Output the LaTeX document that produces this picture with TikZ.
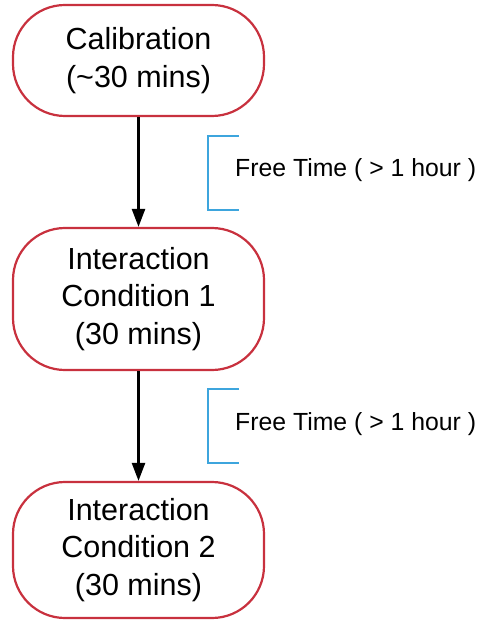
\documentclass[tikz,border=0pt]{standalone}
\usepackage{fontspec}
\setmainfont{Liberation Sans}
\usetikzlibrary{arrows.meta}
\definecolor{boxred}{HTML}{C8313E}
\definecolor{brblue}{HTML}{3DA5DD}
\begin{document}
\begin{tikzpicture}[x=1pt,y=-1pt,
  stagebox/.style={draw=boxred, line width=2.2pt, rounded corners=52pt,
    minimum width=251pt, align=center, inner sep=0pt,
    font=\fontsize{30.5}{37.5}\selectfont},
  flow/.style={line width=2.5pt, -{Triangle[length=18pt,width=13pt]}},
  gap/.style={draw=brblue, line width=2.2pt},
  gaplabel/.style={anchor=west, inner sep=0pt, font=\fontsize{24.8}{28}\selectfont}]
  \useasboundingbox (0,0) rectangle (480,620);
  % stages
  \node[stagebox, minimum height=111pt] (cal) at (138.5,60.5) {Calibration\\(\textasciitilde30 mins)};
  \node[stagebox, minimum height=142pt] (ic1) at (138.5,299) {Interaction\\Condition 1\\(30 mins)};
  \node[stagebox, minimum height=136pt] (ic2) at (138.5,550) {Interaction\\Condition 2\\(30 mins)};
  % transitions
  \draw[flow] (cal.south) -- (ic1.north);
  \draw[flow] (ic1.south) -- (ic2.north);
  % free-time brackets
  \coordinate (b1a) at (239,136);
  \coordinate (b1b) at (239,210);
  \draw[gap] (b1a) -- (208,136) -- (208,210) -- (b1b);
  \node[gaplabel] (f1) at (235,170) {Free Time ( > 1 hour )};
  \coordinate (b2a) at (239,389);
  \coordinate (b2b) at (239,463);
  \draw[gap] (b2a) -- (208,389) -- (208,463) -- (b2b);
  \node[gaplabel] (f2) at (235,424) {Free Time ( > 1 hour )};
\end{tikzpicture}
\end{document}
